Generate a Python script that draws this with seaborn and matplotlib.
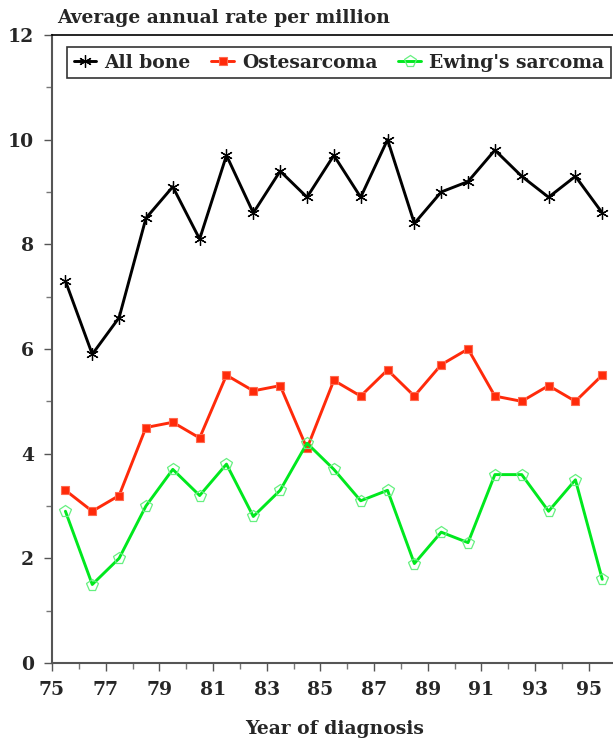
import numpy as np
import pandas as pd
import matplotlib
matplotlib.use("Agg")
import matplotlib.pyplot as plt
import seaborn as sns
from matplotlib.ticker import MultipleLocator

years = [75.5 + i for i in range(21)]
all_bone = [7.3, 5.9, 6.6, 8.5, 9.1, 8.1, 9.7, 8.6, 9.4, 8.9, 9.7,
            8.9, 10.0, 8.4, 9.0, 9.2, 9.8, 9.3, 8.9, 9.3, 8.6]
osteo = [3.3, 2.9, 3.2, 4.5, 4.6, 4.3, 5.5, 5.2, 5.3, 4.1, 5.4,
         5.1, 5.6, 5.1, 5.7, 6.0, 5.1, 5.0, 5.3, 5.0, 5.5]
ewing = [2.9, 1.5, 2.0, 3.0, 3.7, 3.2, 3.8, 2.8, 3.3, 4.2, 3.7,
         3.1, 3.3, 1.9, 2.5, 2.3, 3.6, 3.6, 2.9, 3.5, 1.6]
series_names = ["All bone", "Ostesarcoma", "Ewing's sarcoma"]
x_ticks = [75, 77, 79, 81, 83, 85, 87, 89, 91, 93, 95]

sns.set_style("white")
plt.rcParams["font.family"] = ["DejaVu Serif"]
plt.rcParams["font.weight"] = "bold"

df = pd.DataFrame({"year": years * 3,
                   "rate": all_bone + osteo + ewing,
                   "series": np.repeat(series_names, len(years))})

fig = plt.figure(figsize=(6.13, 7.40), dpi=100)
ax = fig.add_axes([52 / 613, 1 - 663 / 740, 1 - 52 / 613, (663 - 35) / 740])

styles = {
    "All bone": dict(color="black", marker=(6, 2, 0), markersize=9,
                     markeredgewidth=0.9, markeredgecolor="black"),
    "Ostesarcoma": dict(color="#ff2a0a", marker="s", markersize=6,
                        markeredgewidth=0.8, markeredgecolor="#ff6a50"),
    "Ewing's sarcoma": dict(color="#00e81e", marker="p", markersize=8.5,
                            markeredgewidth=0.9, markeredgecolor="#66f080",
                            markerfacecolor="none"),
}
for name in series_names:
    sub = df[df["series"] == name]
    sns.lineplot(data=sub, x="year", y="rate", ax=ax, label=name,
                 linewidth=2.1, **styles[name])

ax.set_xlim(75, 95.9)
ax.set_ylim(0, 12)
ax.set_xticks(x_ticks)
ax.set_xticklabels([str(t) for t in x_ticks])
ax.xaxis.set_minor_locator(MultipleLocator(1))
ax.yaxis.set_major_locator(MultipleLocator(2))
ax.yaxis.set_minor_locator(MultipleLocator(1))
ax.tick_params(which="major", direction="out", length=6, width=1,
               color="#555555", labelsize=13.5, bottom=True, left=True, pad=7)
ax.tick_params(which="minor", direction="out", length=4, width=1,
               color="#777777", bottom=True, left=True)
for lab in ax.get_xticklabels() + ax.get_yticklabels():
    lab.set_fontweight("bold")

ax.spines["right"].set_visible(False)
ax.spines["top"].set_color("black")
ax.spines["top"].set_linewidth(1.2)
for s in ["left", "bottom"]:
    ax.spines[s].set_color("#555555")
    ax.spines[s].set_linewidth(1.5)

ax.set_xlabel("")
ax.set_ylabel("")
fig.text(57 / 613, 1 - 18 / 740, "Average annual rate per million",
         ha="left", va="center", fontsize=13.5, fontweight="bold")
fig.text(335 / 613, 1 - 729 / 740, "Year of diagnosis",
         ha="center", va="center", fontsize=13.5, fontweight="bold")

leg = ax.legend(loc="upper left", bbox_to_anchor=(15 / 561, 1 - 12 / 628),
                ncol=3, frameon=True, fancybox=False, handlelength=1.2,
                handletextpad=0.45, columnspacing=1.1, borderpad=0.35,
                borderaxespad=0, prop={"weight": "bold", "size": 13.5})
leg.get_frame().set_edgecolor("black")
leg.get_frame().set_linewidth(1.2)

fig.savefig("out.png", dpi=100)
plt.close(fig)
